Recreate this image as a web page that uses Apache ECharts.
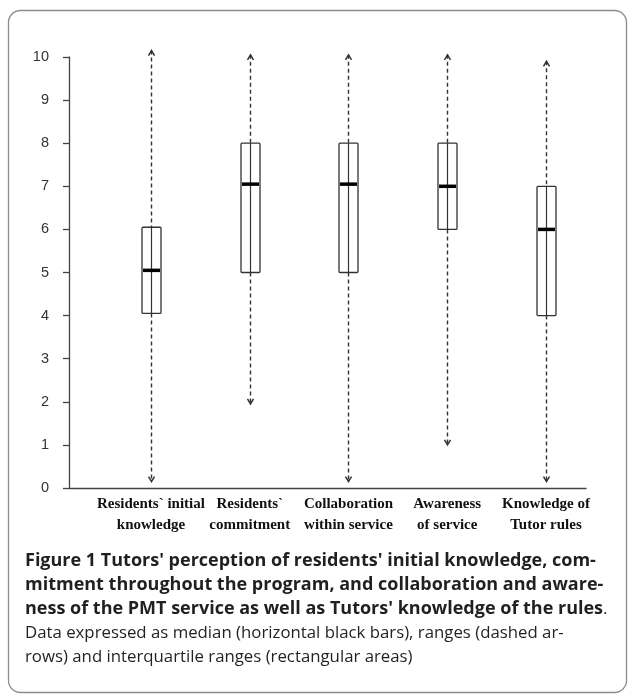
<!DOCTYPE html>
<html>
<head>
<meta charset="utf-8">
<script src="https://cdn.jsdelivr.net/npm/echarts@6/dist/echarts.min.js"></script>
<style>
html,body{margin:0;padding:0;background:#fff;}
#chart{width:628px;height:696px;}
</style>
</head>
<body>
<div id="chart"></div>
<script>
const categories = ["Residents` initial\nknowledge", "Residents`\ncommitment", "Collaboration\nwithin service", "Awareness\nof service", "Knowledge of\nTutor rules"];
const rangeMin = [0.15, 1.95, 0.15, 1.0, 0.15];
const q1 = [4.05, 5.0, 5.0, 6.0, 4.0];
const median = [5.05, 7.05, 7.05, 7.0, 6.0];
const q3 = [6.05, 8.0, 8.0, 8.0, 7.0];
const rangeMax = [10.15, 10.05, 10.05, 10.05, 9.9];
const yMin = 0, yMax = 10, yStep = 1;

const captionBold = [
  "Figure 1 Tutors' perception of residents' initial knowledge, com-",
  "mitment throughout the program, and collaboration and aware-",
  "ness of the PMT service as well as Tutors' knowledge of the rules"
];
const captionPlain = [
  "Data expressed as median (horizontal black bars), ranges (dashed ar-",
  "rows) and interquartile ranges (rectangular areas)"
];

const boxData = categories.map((c, i) => [i, rangeMin[i], q1[i], median[i], q3[i], rangeMax[i]]);

const chart = echarts.init(document.getElementById('chart'), null, {renderer: 'canvas'});

const captionText =
  '{b|' + captionBold[0] + '}\n' +
  '{b|' + captionBold[1] + '}\n' +
  '{b|' + captionBold[2] + '}{n|.}\n' +
  '{n|' + captionPlain[0] + '}\n' +
  '{n|' + captionPlain[1] + '}';

const ink = '#333';

chart.setOption({
  animation: false,
  backgroundColor: '#fff',
  graphic: [
    {
      type: 'rect', z: -10, silent: true,
      shape: {x: 8.5, y: 10.5, width: 618, height: 682, r: 12},
      style: {fill: '#fff', stroke: '#8c8c8c', lineWidth: 1.3}
    },
    {
      type: 'text', left: 25, top: 552, z: 10,
      style: {
        text: captionText,
        fill: '#231f20',
        rich: {
          b: {fontFamily: 'Open Sans', fontWeight: 'bold', fontSize: 18, lineHeight: 24, fill: '#231f20'},
          n: {fontFamily: 'Open Sans', fontWeight: 'normal', fontSize: 16.8, lineHeight: 24, fill: '#231f20'}
        }
      }
    }
  ],
  grid: {left: 69, right: 42, top: 57, bottom: 208, containLabel: false},
  xAxis: {
    type: 'value',
    min: -0.83, max: 4.405,
    splitLine: {show: false},
    axisTick: {show: false},
    axisLine: {show: true, onZero: false, lineStyle: {color: '#444', width: 1.3}},
    axisLabel: {
      customValues: categories.map((c, i) => i),
      formatter: v => categories[Math.round(v)] || '',
      fontFamily: 'Liberation Serif', fontWeight: 'bold', fontSize: 15,
      lineHeight: 21, color: '#111', margin: 6, hideOverlap: false
    }
  },
  yAxis: {
    type: 'value',
    min: yMin, max: yMax, interval: yStep,
    splitLine: {show: false},
    axisLine: {show: true, onZero: false, lineStyle: {color: '#444', width: 1.3}},
    axisTick: {show: true, length: 6, lineStyle: {color: '#444', width: 1.3}},
    axisLabel: {fontFamily: 'Liberation Sans', fontSize: 14.5, color: '#333', margin: 20}
  },
  series: [{
    type: 'custom',
    clip: false,
    data: boxData,
    encode: {x: 0, y: [1, 2, 3, 4, 5]},
    renderItem: function (params, api) {
      const i = api.value(0);
      const pMin = api.coord([i, api.value(1)]);
      const pQ1 = api.coord([i, api.value(2)]);
      const pMed = api.coord([i, api.value(3)]);
      const pQ3 = api.coord([i, api.value(4)]);
      const pMax = api.coord([i, api.value(5)]);
      const cx = Math.round(pMin[0]) + 0.5;
      const hw = 9.5;
      const dash = {stroke: ink, lineWidth: 1.4, lineDash: [4, 3]};
      const solid = {stroke: ink, lineWidth: 1.2, fill: null};
      return {
        type: 'group',
        children: [
          {type: 'line', shape: {x1: cx, y1: pMax[1], x2: cx, y2: pQ3[1]}, style: dash},
          {type: 'line', shape: {x1: cx, y1: pQ1[1], x2: cx, y2: pMin[1]}, style: dash},
          {type: 'polyline', shape: {points: [[cx - 3, pMax[1] + 5], [cx, pMax[1]], [cx + 3, pMax[1] + 5]]}, style: {stroke: ink, lineWidth: 1.5, fill: null}},
          {type: 'polyline', shape: {points: [[cx - 3, pMin[1] - 5], [cx, pMin[1]], [cx + 3, pMin[1] - 5]]}, style: {stroke: ink, lineWidth: 1.5, fill: null}},
          {type: 'rect', shape: {x: cx - hw, y: pQ3[1], width: hw * 2, height: pQ1[1] - pQ3[1], r: 1}, style: {fill: '#fff', stroke: ink, lineWidth: 1.3}},
          {type: 'line', shape: {x1: cx, y1: pQ3[1], x2: cx, y2: pQ1[1]}, style: solid},
          {type: 'line', shape: {x1: cx - hw + 1, y1: pMed[1], x2: cx + hw - 1, y2: pMed[1]}, style: {stroke: '#000', lineWidth: 3.5}}
        ]
      };
    }
  }]
});
</script>
</body>
</html>
